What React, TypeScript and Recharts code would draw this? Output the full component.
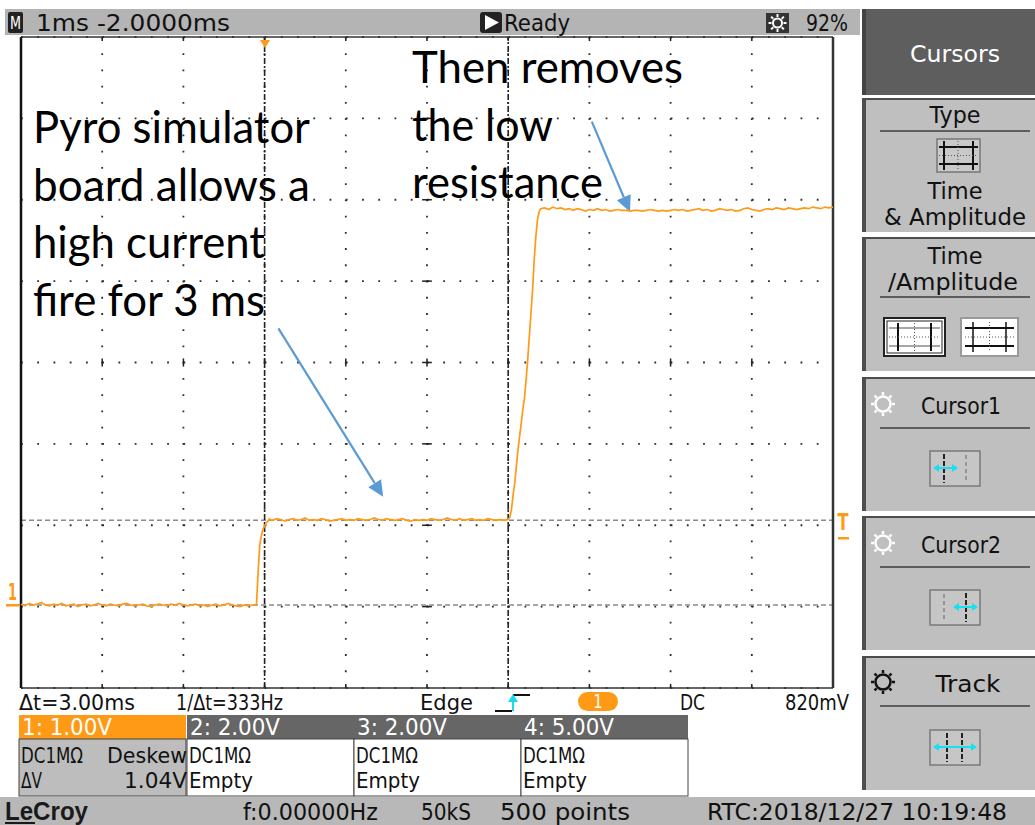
import React from "react";
import {
  CartesianGrid,
  Line,
  LineChart,
  ReferenceLine,
  XAxis,
  YAxis,
} from "recharts";

const ORANGE = "#ff9a16";
const ARROW_BLUE = "#5b9bd5";
const SCOPE_FONT = "'DejaVu Sans', sans-serif";

// 10 horizontal divisions at 1 ms/div, 8 vertical divisions at 1 V/div
const timeDivs = [0, 1, 2, 3, 4, 5, 6, 7, 8, 9, 10];
const voltDivs = [-1, 0, 1, 2, 3, 4, 5, 6, 7];
const innerTimeDivs = [1, 2, 3, 4, 5, 6, 7, 8, 9];
const innerVoltDivs = [0, 1, 2, 3, 4, 5, 6];

const sampleStep = 0.05;

// channel 1 before the fire pulse (V)
const lowStart = 0;
const lowV = [
  0.03, 0.01, 0.04, 0.02, 0.03, 0.05, 0.02, 0.01, 0.03, 0.02,
  0.04, 0.01, 0.02, 0.03, 0.0, 0.02, 0.03, 0.01, 0.02, 0.04,
  0.02, 0.01, 0.03, 0.02, 0.01, 0.03, 0.04, 0.02, 0.01, 0.02,
  0.03, 0.01, 0.0, 0.02, 0.03, 0.02, 0.01, 0.03, 0.02, 0.04,
  0.02, 0.01, 0.02, 0.03, 0.01, 0.02, 0.0, 0.02, 0.03, 0.01,
  0.02, 0.04, 0.02, 0.01, 0.0, 0.02, 0.01, 0.02,
];

// first edge (ms, V)
const rise1T = [2.88, 2.9, 2.92, 2.94, 2.96, 2.98, 3.0, 3.02, 3.04, 3.06, 3.08];
const rise1V = [0.02, 0.03, 0.42, 0.75, 0.87, 0.95, 0.99, 1.03, 1.05, 1.08, 1.06];

// low-resistance plateau
const midStart = 3.1;
const midV = [
  1.06, 1.08, 1.07, 1.05, 1.07, 1.08, 1.06, 1.07, 1.09, 1.06,
  1.07, 1.06, 1.08, 1.07, 1.05, 1.06, 1.07, 1.08, 1.06, 1.07,
  1.06, 1.08, 1.07, 1.06, 1.07, 1.09, 1.07, 1.06, 1.08, 1.07,
  1.06, 1.07, 1.08, 1.06, 1.05, 1.07, 1.06, 1.07, 1.06, 1.08,
  1.07, 1.06, 1.07, 1.09, 1.07, 1.06, 1.08, 1.06, 1.07, 1.08,
  1.06, 1.07, 1.06, 1.08, 1.07, 1.06, 1.07, 1.06,
];

// second edge
const rise2T = [
  6.0, 6.02, 6.04, 6.06, 6.08, 6.1, 6.12, 6.14, 6.16, 6.18, 6.2,
  6.22, 6.24, 6.26, 6.28, 6.3, 6.32, 6.34, 6.36, 6.38, 6.4,
];
const rise2V = [
  1.07, 1.1, 1.19, 1.37, 1.51, 1.72, 1.92, 2.09, 2.25, 2.42, 2.56,
  2.78, 3.03, 3.32, 3.6, 3.89, 4.26, 4.54, 4.75, 4.85, 4.89,
];

// after the low resistance is removed
const highStart = 6.45;
const highV = [
  4.9, 4.88, 4.91, 4.89, 4.9, 4.88, 4.89, 4.87, 4.89, 4.88,
  4.86, 4.88, 4.87, 4.89, 4.87, 4.88, 4.86, 4.87, 4.88, 4.87,
  4.87, 4.86, 4.87, 4.87, 4.86, 4.87, 4.88, 4.87, 4.86, 4.87,
  4.86, 4.87, 4.88, 4.87, 4.88, 4.86, 4.87, 4.88, 4.89, 4.87,
  4.88, 4.86, 4.87, 4.89, 4.88, 4.87, 4.88, 4.86, 4.87, 4.89,
  4.9, 4.88, 4.87, 4.86, 4.88, 4.89, 4.88, 4.9, 4.89, 4.88,
  4.9, 4.89, 4.88, 4.89, 4.9, 4.89, 4.91, 4.9, 4.89, 4.91,
  4.9, 4.91,
];

const timeCursors = [3, 6];
const voltCursors = [0.02, 1.06];

const trace = [
  ...lowV.map((v, i) => ({ t: lowStart + i * sampleStep, v })),
  ...rise1T.map((t, i) => ({ t, v: rise1V[i] })),
  ...midV.map((v, i) => ({ t: midStart + i * sampleStep, v })),
  ...rise2T.map((t, i) => ({ t, v: rise2V[i] })),
  ...highV.map((v, i) => ({ t: highStart + i * sampleStep, v })),
];

// callout arrows in data units (ms, V)
const arrows = [
  { from: { x: 3.17, y: 3.42 }, to: { x: 4.46, y: 1.35 } },
  { from: { x: 7.03, y: 5.96 }, to: { x: 7.5, y: 4.85 } },
];

const leftNote = ["Pyro simulator", "board allows a", "high current", "fire for 3 ms"];
const leftNoteW = [277, 277, 232, 232];
const rightNote = ["Then removes", "the low", "resistance"];
const rightNoteW = [271, 141, 191];

function Txt({ x, y, w, children, anchor = "start", fill = "#111", size = 22, weight = 400 }: any) {
  return (
    <text
      x={x}
      y={y}
      textLength={w}
      lengthAdjust="spacingAndGlyphs"
      textAnchor={anchor}
      fontFamily={SCOPE_FONT}
      fontSize={size}
      fontWeight={weight}
      fill={fill}
    >
      {children}
    </text>
  );
}

function Sun({ cx, cy, color, r = 6, width = 2 }: any) {
  const rays = [0, 45, 90, 135, 180, 225, 270, 315];
  return (
    <g stroke={color} strokeWidth={width} fill="none">
      <circle cx={cx} cy={cy} r={r} />
      {rays.map((a) => {
        const rad = (a * Math.PI) / 180;
        return (
          <line
            key={a}
            x1={cx + Math.cos(rad) * (r + 1.5)}
            y1={cy + Math.sin(rad) * (r + 1.5)}
            x2={cx + Math.cos(rad) * (r + 4.5)}
            y2={cy + Math.sin(rad) * (r + 4.5)}
          />
        );
      })}
    </g>
  );
}

function ArrowShape(p: any) {
  const { x1, y1, x2, y2 } = p;
  const ang = Math.atan2(y2 - y1, x2 - x1);
  const len = 16;
  const half = 7.5;
  const bx = x2 - Math.cos(ang) * len;
  const by = y2 - Math.sin(ang) * len;
  const nx = -Math.sin(ang) * half;
  const ny = Math.cos(ang) * half;
  return (
    <g>
      <line x1={x1} y1={y1} x2={bx} y2={by} stroke={ARROW_BLUE} strokeWidth={2.2} />
      <polygon
        points={`${x2},${y2} ${bx + nx},${by + ny} ${bx - nx},${by - ny}`}
        fill={ARROW_BLUE}
      />
    </g>
  );
}

function Panel({ top }: any) {
  return (
    <g>
      <rect x={862} y={top} width={173} height={134} fill="#bfbfbf" />
      <rect x={862} y={top} width={4} height={134} fill="#4d4d4d" />
      <rect x={862} y={top} width={173} height={2} fill="#4d4d4d" />
    </g>
  );
}

function CursorBox({ y, solid, faint, arrowFrom, arrowTo }: any) {
  const ay = y + 17;
  return (
    <g>
      <rect x={930} y={y} width={50} height={35} fill="#c6c6c6" stroke="#7a7a7a" strokeWidth={1.5} />
      {faint.map((fx: number) => (
        <line key={"f" + fx} x1={fx} y1={y + 4} x2={fx} y2={y + 31} stroke="#777" strokeWidth={1.2} strokeDasharray="4 3" />
      ))}
      {solid.map((sx: number) => (
        <line key={"s" + sx} x1={sx} y1={y + 3} x2={sx} y2={y + 32} stroke="#111" strokeWidth={1.8} strokeDasharray="5 2" />
      ))}
      <line x1={arrowFrom + 4} y1={ay} x2={arrowTo - 4} y2={ay} stroke="#19e0f0" strokeWidth={2} />
      <polygon points={`${arrowFrom},${ay} ${arrowFrom + 6},${ay - 4} ${arrowFrom + 6},${ay + 4}`} fill="#19e0f0" />
      <polygon points={`${arrowTo},${ay} ${arrowTo - 6},${ay - 4} ${arrowTo - 6},${ay + 4}`} fill="#19e0f0" />
    </g>
  );
}

function Chrome() {
  const chBoxes = [
    { x: 19, label: "1: 1.00V", head: ORANGE, body: "#bdbdbd" },
    { x: 187, label: "2: 2.00V", head: "#666666", body: "#ffffff" },
    { x: 354, label: "3: 2.00V", head: "#666666", body: "#ffffff" },
    { x: 521, label: "4: 5.00V", head: "#666666", body: "#ffffff" },
  ];
  return (
    <svg width={1035} height={825} style={{ position: "absolute", left: 0, top: 0 }}>
      {/* top status bar */}
      <rect x={5} y={9} width={855} height={26} fill="#b4b4b4" />
      <rect x={8} y={12} width={15} height={21} rx={2} fill="#222" />
      <Txt x={15.5} y={29} w={11} anchor="middle" fill="#fff" size={18}>M</Txt>
      <Txt x={36} y={31} w={194} size={23}>1ms -2.0000ms</Txt>
      <rect x={480} y={12} width={22} height={21} rx={3} fill="#222" />
      <polygon points="485,15 499,22.5 485,30" fill="#fff" />
      <Txt x={504} y={31} w={66} size={23}>Ready</Txt>
      <rect x={766} y={13} width={23} height={20} fill="#333" />
      <Sun cx={777.5} cy={23} color="#fff" r={4.5} />
      <Txt x={806} y={31} w={42} size={23}>92%</Txt>

      {/* right soft-key menu */}
      <rect x={862} y={9} width={173} height={86} fill="#5e5e5e" />
      <rect x={862} y={9} width={4} height={86} fill="#444" />
      <Txt x={955} y={62} w={90} anchor="middle" fill="#fff" size={23}>Cursors</Txt>

      <Panel top={98} />
      <Txt x={955} y={123} w={51} anchor="middle" size={23}>Type</Txt>
      <line x1={880} x2={1030} y1={131} y2={131} stroke="#3c3c3c" strokeWidth={1.5} />
      <rect x={937} y={139} width={43} height={33} fill="#c9c9c9" stroke="#777" strokeWidth={1.5} />
      <line x1={939} x2={978} y1={147} y2={147} stroke="#111" strokeWidth={2} />
      <line x1={939} x2={978} y1={164} y2={164} stroke="#111" strokeWidth={2} />
      <line x1={944} x2={944} y1={141} y2={170} stroke="#111" strokeWidth={2} />
      <line x1={973} x2={973} y1={141} y2={170} stroke="#111" strokeWidth={2} />
      <line x1={958} x2={958} y1={141} y2={170} stroke="#555" strokeWidth={1} strokeDasharray="1 2" />
      <line x1={939} x2={978} y1={155.5} y2={155.5} stroke="#555" strokeWidth={1} strokeDasharray="1 2" />
      <Txt x={955} y={199} w={55} anchor="middle" size={23}>Time</Txt>
      <Txt x={955} y={225} w={142} anchor="middle" size={23}>&amp; Amplitude</Txt>

      <Panel top={237} />
      <Txt x={955} y={264} w={55} anchor="middle" size={23}>Time</Txt>
      <Txt x={953} y={290} w={130} anchor="middle" size={23}>/Amplitude</Txt>
      <line x1={880} x2={1030} y1={297} y2={297} stroke="#3c3c3c" strokeWidth={1.5} />
      <rect x={884} y={318} width={61} height={38} fill="#fff" stroke="#222" strokeWidth={2} />
      <rect x={887} y={321} width={55} height={32} fill="none" stroke="#222" strokeWidth={1} />
      <line x1={889} x2={940} y1={328} y2={328} stroke="#888" strokeWidth={1.5} />
      <line x1={889} x2={940} y1={346} y2={346} stroke="#888" strokeWidth={1.5} />
      <line x1={898} x2={898} y1={323} y2={351} stroke="#111" strokeWidth={2} />
      <line x1={931} x2={931} y1={323} y2={351} stroke="#111" strokeWidth={2} />
      <line x1={914.5} x2={914.5} y1={323} y2={351} stroke="#555" strokeWidth={1} strokeDasharray="1 2" />
      <line x1={889} x2={940} y1={337} y2={337} stroke="#555" strokeWidth={1} strokeDasharray="1 2" />
      <rect x={961} y={318} width={57} height={38} fill="#fff" stroke="#9a9a9a" strokeWidth={2} />
      <line x1={965} x2={1014} y1={328} y2={328} stroke="#111" strokeWidth={2} />
      <line x1={965} x2={1014} y1={346} y2={346} stroke="#111" strokeWidth={2} />
      <line x1={973} x2={973} y1={322} y2={352} stroke="#111" strokeWidth={1.5} />
      <line x1={1006} x2={1006} y1={322} y2={352} stroke="#111" strokeWidth={1.5} />
      <line x1={989.5} x2={989.5} y1={322} y2={352} stroke="#555" strokeWidth={1} strokeDasharray="1 2" />
      <line x1={965} x2={1014} y1={337} y2={337} stroke="#555" strokeWidth={1} strokeDasharray="1 2" />

      <Panel top={377} />
      <Sun cx={883} cy={404} color="#fff" r={7.5} width={2.5} />
      <Txt x={961} y={414} w={80} anchor="middle" size={23}>Cursor1</Txt>
      <line x1={880} x2={1030} y1={428} y2={428} stroke="#3c3c3c" strokeWidth={1.5} />
      <CursorBox y={451} solid={[944]} faint={[966]} arrowFrom={933} arrowTo={958} />

      <Panel top={516} />
      <Sun cx={883} cy={543} color="#fff" r={7.5} width={2.5} />
      <Txt x={961} y={553} w={80} anchor="middle" size={23}>Cursor2</Txt>
      <line x1={880} x2={1030} y1={567} y2={567} stroke="#3c3c3c" strokeWidth={1.5} />
      <CursorBox y={590} solid={[966]} faint={[944]} arrowFrom={953} arrowTo={978} />

      <Panel top={656} />
      <Sun cx={883} cy={682} color="#111" r={7.5} width={2.5} />
      <Txt x={968} y={692} w={65} anchor="middle" size={23}>Track</Txt>
      <line x1={880} x2={1030} y1={706} y2={706} stroke="#3c3c3c" strokeWidth={1.5} />
      <CursorBox y={730} solid={[947, 962]} faint={[]} arrowFrom={933} arrowTo={977} />

      {/* measurement line */}
      <Txt x={19} y={710} w={116}>Δt=3.00ms</Txt>
      <Txt x={176} y={710} w={107}>1/Δt=333Hz</Txt>
      <Txt x={420} y={710} w={53}>Edge</Txt>
      <polyline points="495,711 512,711" stroke="#111" strokeWidth={2} fill="none" />
      <polyline points="513,695 530,695" stroke="#111" strokeWidth={2} fill="none" />
      <line x1={513} y1={711} x2={513} y2={700} stroke="#19d8f0" strokeWidth={2} />
      <polygon points="513,694 508,702 518,702" fill="#19d8f0" />
      <rect x={578} y={692} width={40} height={19} rx={9.5} fill={ORANGE} />
      <Txt x={598} y={708} w={9} anchor="middle" fill="#fff" size={19}>1</Txt>
      <Txt x={680} y={710} w={25}>DC</Txt>
      <Txt x={785} y={710} w={64}>820mV</Txt>

      {/* channel boxes */}
      {chBoxes.map((b) => (
        <g key={b.x}>
          <rect x={b.x} y={715} width={167} height={24} fill={b.head} />
          <rect x={b.x} y={739} width={167} height={57} fill={b.body} stroke="#444" strokeWidth={1} />
          <Txt x={b.x + 3} y={735} w={90} fill="#fff" size={23}>{b.label}</Txt>
          <Txt x={b.x + 2} y={763} w={62}>DC1MΩ</Txt>
        </g>
      ))}
      <Txt x={107} y={763} w={80}>Deskew</Txt>
      <Txt x={21} y={788} w={21}>ΔV</Txt>
      <Txt x={124} y={788} w={63}>1.04V</Txt>
      <Txt x={189} y={788} w={64}>Empty</Txt>
      <Txt x={356} y={788} w={64}>Empty</Txt>
      <Txt x={523} y={788} w={64}>Empty</Txt>

      {/* bottom bar */}
      <rect x={0} y={797} width={1035} height={28} fill="#b8b8b8" />
      <text x={5} y={820} textLength={83} lengthAdjust="spacingAndGlyphs" fontFamily="'Liberation Sans', sans-serif" fontWeight={700} fontSize={25} fill="#1a1a1a">LeCroy</text>
      <rect x={5} y={822} width={30} height={2} fill="#1a1a1a" />
      <Txt x={243} y={820} w={135} size={23}>f:0.00000Hz</Txt>
      <Txt x={421} y={820} w={50} size={23}>50kS</Txt>
      <Txt x={500} y={820} w={130} size={23}>500 points</Txt>
      <Txt x={707} y={820} w={300} size={23}>RTC:2018/12/27 10:19:48</Txt>
    </svg>
  );
}

function Overlay() {
  return (
    <svg width={1035} height={825} style={{ position: "absolute", left: 0, top: 0, pointerEvents: "none" }}>
      {/* channel 1 ground marker, trigger marker, trigger level marker */}
      <Txt x={8} y={600} w={9} fill={ORANGE} size={23} weight={700}>1</Txt>
      <rect x={6} y={604} width={14} height={2.5} fill={ORANGE} />
      <polygon points="260,40 270,40 265,48" fill={ORANGE} />
      <Txt x={843} y={530} w={11} anchor="middle" fill={ORANGE} size={23} weight={700}>T</Txt>
      <rect x={838} y={537} width={11} height={2.5} fill={ORANGE} />

      {leftNote.map((s, i) => (
        <text key={s} x={33} y={143 + i * 57.5} textLength={leftNoteW[i]} lengthAdjust="spacingAndGlyphs" fontFamily="Lato, sans-serif" fontSize={44} fill="#000">{s}</text>
      ))}
      {rightNote.map((s, i) => (
        <text key={s} x={412} y={83 + i * 57.5} textLength={rightNoteW[i]} lengthAdjust="spacingAndGlyphs" fontFamily="Lato, sans-serif" fontSize={44} fill="#000">{s}</text>
      ))}
    </svg>
  );
}

export default function App() {
  return (
    <div
      style={{
        position: "absolute",
        left: 0,
        top: 0,
        width: 1035,
        height: 825,
        background: "#fff",
        overflow: "hidden",
      }}
    >
      <Chrome />
      <div style={{ position: "absolute", left: 0, top: 0 }}>
        <LineChart
          width={1035}
          height={825}
          data={trace}
          margin={{ top: 37, right: 202, bottom: 137, left: 21 }}
        >
          <XAxis dataKey="t" type="number" domain={[0, 10]} ticks={timeDivs} hide />
          <YAxis type="number" domain={[-1, 7]} ticks={voltDivs} hide />
          <CartesianGrid
            stroke="#2e2e2e"
            strokeWidth={1.8}
            strokeDasharray="1.8 14.44"
          />
          {innerTimeDivs.map((x) => (
            <ReferenceLine key={"ct" + x} segment={[{ x, y: 2.95 }, { x, y: 3.05 }]} stroke="#222" strokeWidth={1.5} />
          ))}
          {innerVoltDivs.map((y) => (
            <ReferenceLine key={"cv" + y} segment={[{ x: 4.94, y }, { x: 5.06, y }]} stroke="#222" strokeWidth={1.5} />
          ))}
          {innerTimeDivs.map((x) => (
            <ReferenceLine key={"tt" + x} segment={[{ x, y: 7 }, { x, y: 6.95 }]} stroke="#222" strokeWidth={1.5} />
          ))}
          {innerTimeDivs.map((x) => (
            <ReferenceLine key={"bt" + x} segment={[{ x, y: -1 }, { x, y: -0.95 }]} stroke="#222" strokeWidth={1.5} />
          ))}
          {voltCursors.map((y) => (
            <ReferenceLine key={"vc" + y} y={y} stroke="#8c8c8c" strokeWidth={1.5} strokeDasharray="5 3" />
          ))}
          {timeCursors.map((x) => (
            <ReferenceLine key={"tc" + x} x={x} stroke="#222" strokeWidth={1.6} strokeDasharray="6 2 2 2" />
          ))}
          <ReferenceLine x={0} stroke="#111" strokeWidth={2.5} />
          <ReferenceLine x={10} stroke="#333" strokeWidth={2.5} />
          <ReferenceLine y={7} stroke="#333" strokeWidth={1.5} />
          <ReferenceLine y={-1} stroke="#333" strokeWidth={1.5} />
          {arrows.map((a, i) => (
            <ReferenceLine key={"arrow" + i} segment={[a.from, a.to]} shape={ArrowShape} />
          ))}
          <Line
            type="linear"
            dataKey="v"
            stroke={ORANGE}
            strokeWidth={1.7}
            dot={false}
            activeDot={false}
            isAnimationActive={false}
          />
        </LineChart>
      </div>
      <Overlay />
    </div>
  );
}
